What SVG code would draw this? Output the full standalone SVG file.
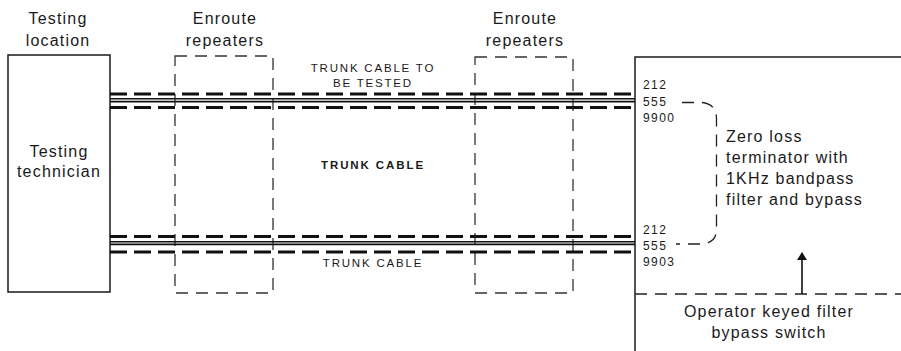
<svg xmlns="http://www.w3.org/2000/svg" width="901" height="351" viewBox="0 0 901 351">
<style>
text{font-family:"Liberation Sans",Arial,sans-serif;fill:#1a1a1a}
.lbl{font-size:16px;letter-spacing:1.2px}
.cap{font-size:11.5px;letter-spacing:1.8px}
.capb{font-size:11.5px;letter-spacing:1.9px;font-weight:bold}
.num{font-size:12px;letter-spacing:1.4px}
.box{fill:none;stroke:#1a1a1a;stroke-width:1.5}
.rep{fill:none;stroke:#333;stroke-width:1.3;stroke-dasharray:12 8}
.dash{fill:none;stroke:#111;stroke-width:3;stroke-dasharray:17 7}
.solid{fill:none;stroke:#111;stroke-width:1.6}
.thin{fill:none;stroke:#222;stroke-width:1.3;stroke-dasharray:12 8}
</style>
<defs>
<marker id="ah" markerWidth="8" markerHeight="10" refX="7" refY="5" orient="auto" markerUnits="userSpaceOnUse">
<path d="M0,0 L8,5 L0,10 Z" fill="#111"/>
</marker>
</defs>
<g id="testing-location">
<text class="lbl" x="58" y="24" text-anchor="middle">Testing</text>
<text class="lbl" x="58" y="46" text-anchor="middle">location</text>
<rect class="box" x="8" y="55" width="102" height="237"/>
<text class="lbl" x="59" y="157" text-anchor="middle">Testing</text>
<text class="lbl" x="59" y="177" text-anchor="middle">technician</text>
</g>
<g id="repeaters-1">
<text class="lbl" x="225" y="24" text-anchor="middle">Enroute</text>
<text class="lbl" x="225" y="46" text-anchor="middle">repeaters</text>
<rect class="rep" x="175" y="56" width="98" height="237"/>
</g>
<g id="repeaters-2">
<text class="lbl" x="525" y="24" text-anchor="middle">Enroute</text>
<text class="lbl" x="525" y="46" text-anchor="middle">repeaters</text>
<rect class="rep" x="475" y="57" width="98" height="236"/>
</g>
<g id="far-end">
<path class="box" d="M635,351 V57 H901"/>
<text class="num" x="643" y="89">212</text>
<text class="num" x="643" y="105.5">555</text>
<text class="num" x="643" y="121.5">9900</text>
<text class="num" x="643" y="234">212</text>
<text class="num" x="643" y="250">555</text>
<text class="num" x="643" y="265.5">9903</text>
<text class="lbl" x="726" y="142">Zero loss</text>
<text class="lbl" x="726" y="163">terminator with</text>
<text class="lbl" x="726" y="184">1KHz bandpass</text>
<text class="lbl" x="726" y="205">filter and bypass</text>
<path class="thin" d="M682,102.5 H702 Q716,104 716.5,118 V230 Q716,243 702,244 H676" stroke-dasharray="9 7"/>
<path class="thin" d="M635,294 H901"/>
<text class="lbl" x="769" y="317" text-anchor="middle">Operator keyed filter</text>
<text class="lbl" x="769" y="338" text-anchor="middle">bypass switch</text>
</g>
<g id="connectors">
<path class="dash" d="M110,94 H635"/>
<path class="solid" d="M110,98.8 H635 M110,101.6 H635"/>
<path class="dash" d="M110,107.5 H635"/>
<path class="dash" d="M110,236.5 H635"/>
<path class="solid" d="M110,241.8 H635 M110,244.4 H635"/>
<path class="dash" d="M110,252 H635"/>
<line x1="802" y1="294" x2="802" y2="253" stroke="#111" stroke-width="1.6" marker-end="url(#ah)"/>
</g>
<g id="cable-labels">
<text class="cap" x="373" y="72" text-anchor="middle">TRUNK CABLE TO</text>
<text class="cap" x="373" y="87" text-anchor="middle">BE TESTED</text>
<text class="capb" x="373" y="169" text-anchor="middle">TRUNK CABLE</text>
<text class="cap" x="373" y="267" text-anchor="middle">TRUNK CABLE</text>
</g>
</svg>
